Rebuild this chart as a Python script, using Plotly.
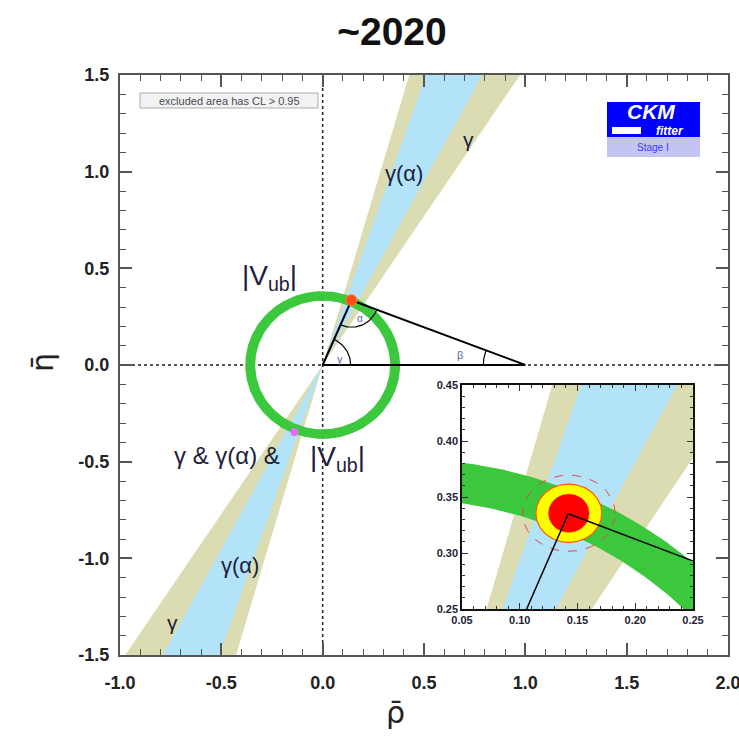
import numpy as np
import plotly.graph_objects as go

# ---------------- data ----------------
x_ticks = [-1.0, -0.5, 0.0, 0.5, 1.0, 1.5, 2.0]
x_tick_labels = ["-1.0", "-0.5", "0.0", "0.5", "1.0", "1.5", "2.0"]
y_ticks = [-1.5, -1.0, -0.5, 0.0, 0.5, 1.0, 1.5]
y_tick_labels = ["-1.5", "-1.0", "-0.5", "0.0", "0.5", "1.0", "1.5"]

zoom_x_ticks = [0.05, 0.10, 0.15, 0.20, 0.25]
zoom_x_tick_labels = ["0.05", "0.10", "0.15", "0.20", "0.25"]
zoom_y_ticks = [0.25, 0.30, 0.35, 0.40, 0.45]
zoom_y_tick_labels = ["0.25", "0.30", "0.35", "0.40", "0.45"]

# angular bands (degrees from the rho axis, rays through the origin)
gamma_band_deg = [57.0, 74.1]
gamma_alpha_band_deg = [62.3, 71.2]

# |Vub| ring radii
vub_ring = [0.333, 0.382]
vub_ring_zoom = [0.348, 0.384]

# unitarity triangle apex (rho, eta)
apex = [0.142, 0.335]

# fit result contours in the zoom: centre and half-widths (rho, eta)
cl_center = [0.1425, 0.3355]
cl_inner = [0.0175, 0.0170]
cl_middle = [0.0285, 0.0260]
cl_outer = [0.0400, 0.0340]

# second crossing of the bands with the |Vub| ring
crossing = [-0.139, -0.347]

# ---------------- geometry helpers ----------------
W = H = 739
L, R, T, B = 120, 11, 75, 84
PW, PH = W - L - R, H - T - B
X_RANGE = [-1.0, 2.0]
Y_RANGE = [-1.5, 1.5]
px_x = PW / (X_RANGE[1] - X_RANGE[0])
px_y = PH / (Y_RANGE[1] - Y_RANGE[0])


def pxx(px):
    return (px - L) / PW


def pxy(py):
    return (H - B - py) / PH


def wedge(deg_pair, reach=3.0):
    k = [1.0 / np.tan(np.radians(d)) for d in deg_pair]
    xs = [0, k[0] * reach, k[1] * reach, 0, None, 0, -k[0] * reach, -k[1] * reach, 0]
    ys = [0, reach, reach, 0, None, 0, -reach, -reach, 0]
    return xs, ys


def annulus(r_in, r_out, n=240):
    t = np.linspace(0, 2 * np.pi, n)
    xs = np.concatenate([r_out * np.cos(t), r_in * np.cos(t[::-1])])
    ys = np.concatenate([r_out * np.sin(t), r_in * np.sin(t[::-1])])
    return xs, ys


def ellipse(c, r, n=120):
    t = np.linspace(0, 2 * np.pi, n)
    return c[0] + r[0] * np.cos(t), c[1] + r[1] * np.sin(t)


def arc(cx, cy, r_px, a0, a1, n=40):
    t = np.linspace(a0, a1, n)
    return cx + r_px * np.cos(t) / px_x, cy + r_px * np.sin(t) / px_y


TAN = "#dcdcb2"
BLUE = "#b2e3f8"
GREEN = "#3cc83c"
TXT = "#1e1e3c"

fig = go.Figure()

# ---------------- main plane ----------------
for deg, col in [(gamma_band_deg, TAN), (gamma_alpha_band_deg, BLUE)]:
    xs, ys = wedge(deg)
    fig.add_trace(go.Scatter(x=xs, y=ys, fill="toself", fillcolor=col,
                             line=dict(width=0), mode="lines", hoverinfo="skip"))

# dotted axes through the origin
fig.add_trace(go.Scatter(x=X_RANGE, y=[0, 0], mode="lines",
                         line=dict(color="#222", width=1.5, dash="dot")))
fig.add_trace(go.Scatter(x=[0, 0], y=Y_RANGE, mode="lines",
                         line=dict(color="#222", width=1.5, dash="dot")))

xs, ys = annulus(*vub_ring)
fig.add_trace(go.Scatter(x=xs, y=ys, fill="toself", fillcolor=GREEN,
                         line=dict(width=0), mode="lines"))

# unitarity triangle
fig.add_trace(go.Scatter(x=[0, 1, apex[0], 0], y=[0, 0, apex[1], 0], mode="lines",
                         line=dict(color="black", width=2)))

# angle arcs
a_oa = np.arctan2(apex[1] * px_y, apex[0] * px_x)
a_to_o = np.arctan2(-apex[1] * px_y, -apex[0] * px_x)
a_to_b = np.arctan2(-apex[1] * px_y, (1 - apex[0]) * px_x)
a_b_apex = np.arctan2(apex[1] * px_y, (apex[0] - 1) * px_x)
for (cx, cy, r, a0, a1) in [(0, 0, 28, 0, a_oa),
                            (apex[0], apex[1], 27, a_to_o, a_to_b),
                            (1, 0, 42, a_b_apex, np.pi)]:
    ax_, ay_ = arc(cx, cy, r, a0, a1)
    fig.add_trace(go.Scatter(x=ax_, y=ay_, mode="lines",
                             line=dict(color="black", width=1.2)))

fig.add_trace(go.Scatter(x=[apex[0]], y=[apex[1]], mode="markers",
                         marker=dict(size=11, color="#ff4a1c",
                                     line=dict(color="#ff8c1a", width=1))))
fig.add_trace(go.Scatter(x=[crossing[0]], y=[crossing[1]], mode="markers",
                         marker=dict(size=8, color="#e070f0", symbol="circle",
                                     line=dict(width=0))))

# ---------------- zoom panel ----------------
zx = dict(xaxis="x2", yaxis="y2")
for deg, col in [(gamma_band_deg, TAN), (gamma_alpha_band_deg, BLUE)]:
    xs, ys = wedge(deg)
    fig.add_trace(go.Scatter(x=xs, y=ys, fill="toself", fillcolor=col,
                             line=dict(width=0), mode="lines", **zx))
xs, ys = annulus(*vub_ring_zoom, n=800)
fig.add_trace(go.Scatter(x=xs, y=ys, fill="toself", fillcolor=GREEN,
                         line=dict(width=0), mode="lines", **zx))
xs, ys = ellipse(cl_center, cl_outer)
fig.add_trace(go.Scatter(x=xs, y=ys, mode="lines",
                         line=dict(color="#e04848", width=1, dash="dash"), **zx))
xs, ys = ellipse(cl_center, cl_middle)
fig.add_trace(go.Scatter(x=xs, y=ys, mode="lines", fill="toself", fillcolor="#ffff00",
                         line=dict(color="#ff5a00", width=1.2), **zx))
xs, ys = ellipse(cl_center, cl_inner)
fig.add_trace(go.Scatter(x=xs, y=ys, mode="lines", fill="toself", fillcolor="#ff0000",
                         line=dict(color="#ff0000", width=0.5), **zx))
fig.add_trace(go.Scatter(x=[0, apex[0], 1], y=[0, apex[1], 0], mode="lines",
                         line=dict(color="black", width=1.5), **zx))

# ---------------- annotations ----------------
ann = []


def note(x, y, text, size, color=TXT, ref="data", family="Liberation Sans", **kw):
    d = dict(text=text, showarrow=False, xanchor="center", yanchor="middle",
             font=dict(family=family, size=size, color=color), **kw)
    if ref == "data":
        d.update(x=x, y=y, xref="x", yref="y")
    else:
        d.update(x=pxx(x), y=pxy(y), xref="paper", yref="paper")
    ann.append(d)


note(0.40, 0.99, "γ(α)", 22)
note(0.72, 1.165, "γ", 21)
note(-0.262, 0.455, "|V<sub>ub</sub>|", 28)
note(-0.47, -0.466, "γ &amp; γ(α) &amp;", 24)
note(0.074, -0.486, "|V<sub>ub</sub>|", 28)
note(-0.406, -1.035, "γ(α)", 22)
note(-0.743, -1.33, "γ", 21)
note(0.084, 0.031, "γ", 11, "#5a6aa0")
note(0.183, 0.238, "α", 10, "#5a6aa0")
note(0.678, 0.052, "β", 11, "#5a6aa0")

# axis titles
note(395, 712, "ρ̄", 30, "#222", ref="px", family="DejaVu Sans")
note(42, 363, "η̄", 30, "#222", ref="px", family="DejaVu Sans", textangle=-90)

# CL legend box text
note(229, 100.5, "excluded area has CL &gt; 0.95", 11, "#4a4a55", ref="px")

# CKMfitter logo text
note(651, 112, "<b><i>CKM</i></b>", 21, "white", ref="px")
note(670, 130.5, "<b><i>fitter</i></b>", 12, "white", ref="px")
note(653, 147.5, "Stage I", 10, "#3a3aff", ref="px")

shapes = [
    dict(type="rect", xref="paper", yref="paper", x0=pxx(140), x1=pxx(318),
         y0=pxy(108), y1=pxy(93), fillcolor="#f2f2f2", line=dict(color="#aaaaaa", width=1),
         layer="below"),
    dict(type="rect", xref="paper", yref="paper", x0=pxx(607), x1=pxx(700),
         y0=pxy(137), y1=pxy(102), fillcolor="#0000ff", line=dict(width=0), layer="below"),
    dict(type="rect", xref="paper", yref="paper", x0=pxx(612), x1=pxx(641),
         y0=pxy(134), y1=pxy(127), fillcolor="white", line=dict(width=0), layer="below"),
    dict(type="rect", xref="paper", yref="paper", x0=pxx(607), x1=pxx(700),
         y0=pxy(157), y1=pxy(137), fillcolor="#c4c4f2", line=dict(width=0), layer="below"),
]

tickfont_main = dict(family="Liberation Sans", size=18, color="#222", weight="bold")
tickfont_zoom = dict(family="Liberation Sans", size=11, color="#223", weight="bold")


def minor_vals(lo, hi, step, nd):
    return list(np.round(np.arange(lo, hi + step / 2, step), nd))


fig.update_layout(
    width=W, height=H, autosize=False,
    margin=dict(l=L, r=R, t=T, b=B, autoexpand=False),
    paper_bgcolor="white", plot_bgcolor="white",
    showlegend=False, hovermode=False,
    title=dict(text="~2020", x=392 / W, xref="container", xanchor="center",
               y=1 - 31 / H, yref="container", yanchor="middle",
               font=dict(family="Liberation Sans", size=39, color="#111", weight="bold")),
    xaxis=dict(range=X_RANGE, domain=[0, 1], anchor="y", tickmode="array",
               tickvals=x_ticks, ticktext=x_tick_labels, tickfont=tickfont_main,
               ticks="inside", ticklen=12, tickwidth=1.5, tickcolor="#555",
               ticklabelstandoff=10, ticklabeloverflow="allow", automargin=False,
               minor=dict(tickmode="array", tickvals=minor_vals(-1, 2, 0.1, 2),
                          ticks="inside", ticklen=6, tickcolor="#555", tickwidth=1.2),
               showline=True, linecolor="#555", linewidth=2, mirror="ticks",
               showgrid=False, zeroline=False),
    yaxis=dict(range=Y_RANGE, domain=[0, 1], anchor="x", tickmode="array",
               tickvals=y_ticks, ticktext=y_tick_labels, tickfont=tickfont_main,
               ticks="inside", ticklen=12, tickwidth=1.5, tickcolor="#555",
               ticklabelstandoff=5, ticklabeloverflow="allow", automargin=False,
               minor=dict(tickmode="array", tickvals=minor_vals(-1.5, 1.5, 0.1, 2),
                          ticks="inside", ticklen=6, tickcolor="#555", tickwidth=1.2),
               showline=True, linecolor="#555", linewidth=2, mirror="ticks",
               showgrid=False, zeroline=False),
    xaxis2=dict(range=[0.05, 0.25], domain=[pxx(462), pxx(693)], anchor="y2",
                tickmode="array", tickvals=zoom_x_ticks, ticktext=zoom_x_tick_labels,
                tickfont=tickfont_zoom, ticks="inside", ticklen=6, tickcolor="#333",
                automargin=False,
                minor=dict(tickmode="array", tickvals=minor_vals(0.05, 0.25, 0.01, 3),
                           ticks="inside", ticklen=3, tickcolor="#333"),
                showline=True, linecolor="#111", linewidth=1.5, mirror="ticks",
                showgrid=False, zeroline=False),
    yaxis2=dict(range=[0.25, 0.45], domain=[pxy(609), pxy(385)], anchor="x2",
                tickmode="array", tickvals=zoom_y_ticks, ticktext=zoom_y_tick_labels,
                tickfont=tickfont_zoom, ticks="inside", ticklen=6, tickcolor="#333",
                automargin=False,
                minor=dict(tickmode="array", tickvals=minor_vals(0.25, 0.45, 0.01, 3),
                           ticks="inside", ticklen=3, tickcolor="#333"),
                showline=True, linecolor="#111", linewidth=1.5, mirror="ticks",
                showgrid=False, zeroline=False),
    annotations=ann,
    shapes=shapes,
)

fig.write_html("out.html")
